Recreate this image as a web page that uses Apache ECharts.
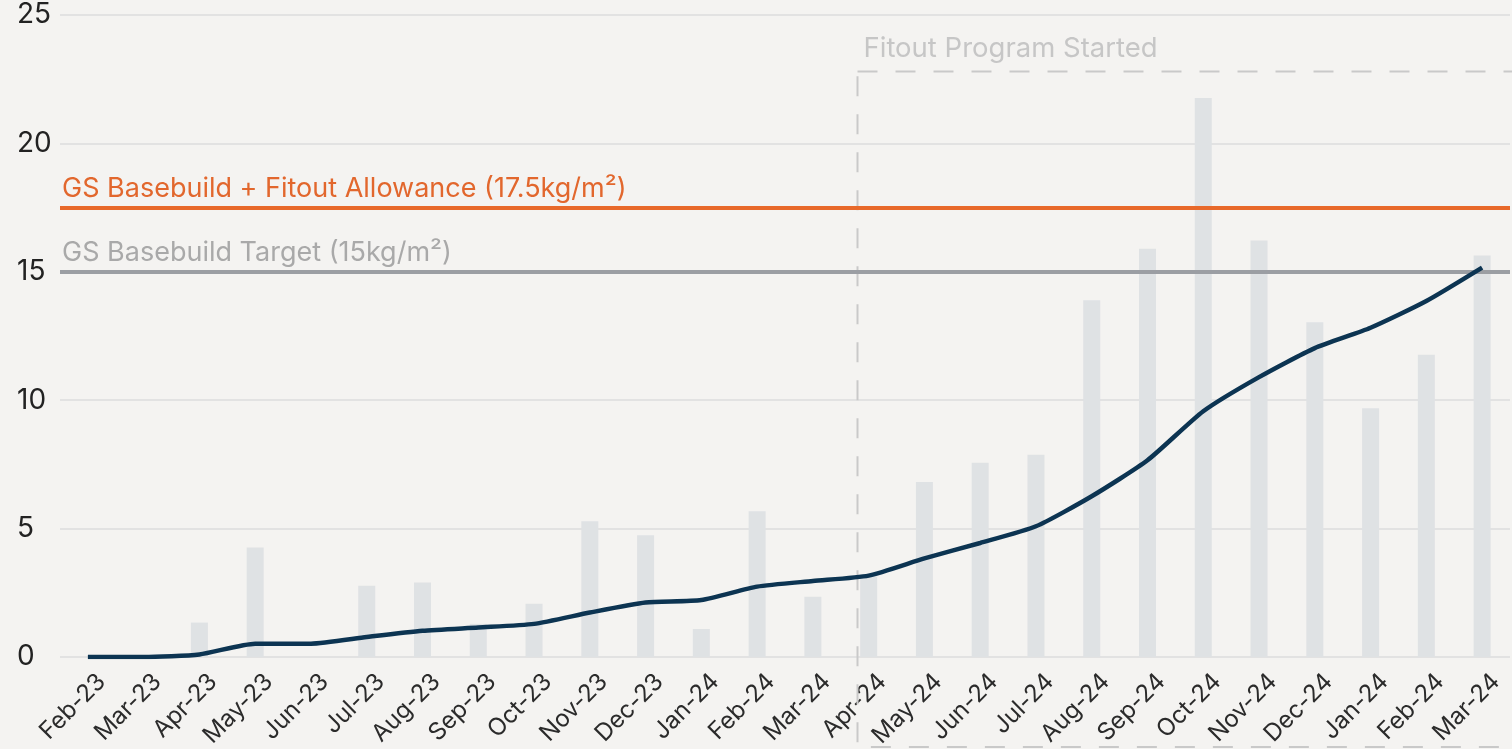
<!DOCTYPE html>
<html>
<head>
<meta charset="utf-8">
<script src="https://cdn.jsdelivr.net/npm/echarts@6/dist/echarts.min.js"></script>
<style>
  html, body { margin: 0; padding: 0; background: #f4f3f1; }
  #main { width: 1512px; height: 749px; }
</style>
</head>
<body>
<div id="main"></div>
<script>
var months = ['Feb-23', 'Mar-23', 'Apr-23', 'May-23', 'Jun-23', 'Jul-23', 'Aug-23', 'Sep-23', 'Oct-23', 'Nov-23', 'Dec-23', 'Jan-24', 'Feb-24',
    'Mar-24', 'Apr-24', 'May-24', 'Jun-24', 'Jul-24', 'Aug-24', 'Sep-24', 'Oct-24', 'Nov-24', 'Dec-24', 'Jan-24', 'Feb-24', 'Mar-24']
// monthly bars (kg/m2)
var monthly = [0, 0, 1.34, 4.26, 0, 2.77, 2.9, 1.29, 2.07, 5.29, 4.74, 1.09, 5.68,
    2.35, 3.13, 6.81, 7.56, 7.88, 13.89, 15.9, 21.77, 16.22, 13.04, 9.69, 11.77, 15.63]
// running line
var trend = [0, 0, 0.1, 0.52, 0.52, 0.78, 1.02, 1.15, 1.29, 1.73, 2.12, 2.22, 2.74,
    2.96, 3.17, 3.84, 4.44, 5.09, 6.26, 7.66, 9.57, 10.9, 12.03, 12.82, 13.86, 15.16]
var yTicks = [0, 5, 10, 15, 20, 25]
var allowance = 17.5
var target = 15
var fitoutStart = 'Apr-24'

var font = 'Inter, "Liberation Sans", sans-serif'
var chart = echarts.init(document.getElementById('main'))

chart.setOption({
    backgroundColor: '#f4f3f1',
    animation: false,
    grid: {
        left: 60,
        right: 2,
        top: 15,
        bottom: 92,
        containLabel: false,
        outerBoundsMode: 'none'
    },
    xAxis: {
        type: 'category',
        data: months,
        axisLine: { show: false },
        axisTick: { show: false },
        axisLabel: {
            interval: 0,
            rotate: 45,
            margin: 7,
            verticalAlign: 'top',
            lineHeight: 39,
            color: '#2b2b2b',
            fontFamily: font,
            fontSize: 24
        }
    },
    yAxis: {
        type: 'value',
        min: yTicks[0],
        max: yTicks[yTicks.length - 1],
        interval: 5,
        axisLine: { show: false },
        axisTick: { show: false },
        axisLabel: {
            align: 'left',
            margin: 43,
            color: '#222',
            fontFamily: font,
            fontSize: 28
        },
        splitLine: { lineStyle: { color: '#dcdcdc', width: 1.5 } }
    },
    series: [{
        name: 'Monthly',
        type: 'bar',
        data: monthly,
        barWidth: 17,
        itemStyle: { color: '#dfe2e4' },
        z: 2,
        markLine: {
            silent: true,
            symbol: 'none',
            z: 3,
            data: [{
                yAxis: allowance,
                lineStyle: { color: '#e8692a', width: 4, type: 'solid' },
                label: {
                    formatter: 'GS Basebuild + Fitout Allowance (17.5kg/m²)',
                    color: '#e2672d'
                }
            }, {
                yAxis: target,
                lineStyle: { color: '#9b9ea3', width: 4, type: 'solid' },
                label: {
                    formatter: 'GS Basebuild Target (15kg/m²)',
                    color: '#a9a9a9'
                }
            }],
            label: {
                position: 'insideStartTop',
                distance: [2, 5],
                fontFamily: font,
                fontSize: 27
            }
        }
    }, {
        name: 'Trend',
        type: 'line',
        data: trend,
        smooth: 0.2,
        symbol: 'none',
        z: 10,
        lineStyle: { color: '#0c3452', width: 4.5 }
    }]
})

// fitout program box, placed from the axes
var idx = months.indexOf(fitoutStart)
var p0 = chart.convertToPixel({ xAxisIndex: 0 }, idx - 1)
var p1 = chart.convertToPixel({ xAxisIndex: 0 }, idx)
var boxX = p0 + (p1 - p0) * 0.8
var boxTop = chart.convertToPixel({ yAxisIndex: 0 }, 22.8)
var boxBottom = chart.convertToPixel({ yAxisIndex: 0 }, -3.5)

chart.setOption({
    graphic: [{
        type: 'rect',
        silent: true,
        z: 1,
        shape: { x: boxX, y: boxTop, width: 800, height: boxBottom - boxTop },
        style: { fill: 'none', stroke: '#c9c9c9', lineWidth: 2, lineDash: [20, 18] }
    }, {
        type: 'text',
        silent: true,
        x: boxX + 6,
        y: boxTop - 23,
        style: {
            text: 'Fitout Program Started',
            fill: '#c6c6c6',
            font: '27.5px ' + font,
            verticalAlign: 'middle'
        }
    }]
})
</script>
</body>
</html>
